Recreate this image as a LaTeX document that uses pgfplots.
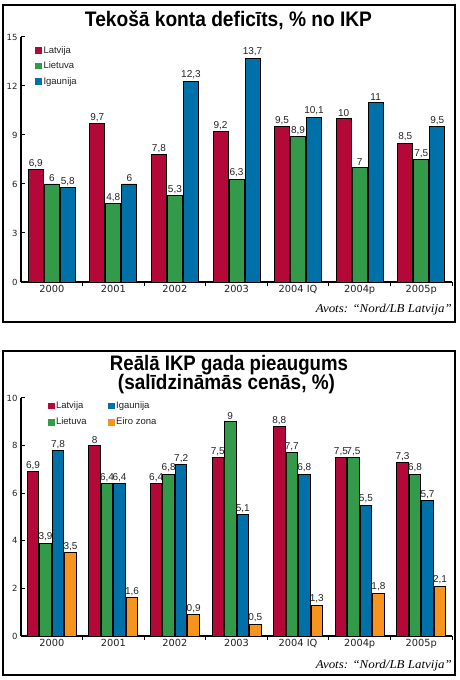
\documentclass[border=0pt]{standalone}
\usepackage{fontspec}
\setmainfont{Liberation Sans}
\newfontfamily\srcfont{Liberation Serif}
\newfontfamily\tickfont{DejaVu Sans}
\usepackage{pgfplots}
\pgfplotsset{compat=1.18}
\definecolor{cLat}{HTML}{B30838}
\definecolor{cLie}{HTML}{339A4A}
\definecolor{cIga}{HTML}{0071A8}
\definecolor{cEur}{HTML}{F7941D}
\definecolor{txt}{HTML}{222222}
\pgfplotsset{
  mybase/.style={
    scale only axis,
    width=431pt,
    xmin=-0.5, xmax=6.5, ymin=0,
    axis lines=left,
    axis line style={-, line width=1.1pt, black},
    /pgf/number format/assume math mode=true,
    /pgf/number format/use comma,
    yticklabel style={font=\tickfont\fontsize{8.5}{10}\selectfont, text=txt},
    xticklabel style={font=\tickfont\fontsize{9.8}{12}\selectfont, text=txt},
    tick style={black, line width=1pt},
    major tick length=4pt,
    tick align=inside,
    xtick={0.5,1.5,...,6.5},
    xticklabels={},
    extra x ticks={0,1,2,3,4,5,6},
    extra x tick labels={2000,2001,2002,2003,2004 IQ,2004p,2005p},
    extra x tick style={major tick length=0pt},
    ybar,
    nodes near coords,
    nodes near coords style={font=\fontsize{10}{10}\selectfont, inner sep=1.5pt, text=txt},
    legend image code/.code={\fill[##1,draw=none] (0pt,-3.3pt) rectangle (6.6pt,3.3pt);},
    legend style={draw=none, fill=none, font=\fontsize{9.5}{11}\selectfont, text=txt,
      cells={anchor=west}, nodes={inner sep=1.5pt}},
  },
  barst/.style={draw=black, line width=0.9pt, fill=#1},
}
\begin{document}
\begin{tikzpicture}
\path (0pt,0pt) rectangle (459pt,680pt);
% frames
\draw[line width=1.2pt] (3pt,675pt) rectangle (455pt,358pt);
\draw[line width=1.2pt] (3pt,329pt) rectangle (455pt,5pt);
% titles
\node[anchor=base] at (228.5pt,653pt) {\resizebox{287pt}{\height}{\bfseries\fontsize{21}{21}\selectfont Tekošā konta deficīts, \% no IKP}};
\node[anchor=base] at (229pt,309pt) {\resizebox{238pt}{\height}{\bfseries\fontsize{21}{21}\selectfont Reālā IKP gada pieaugums}};
\node[anchor=base] at (226.5pt,290pt) {\resizebox{217pt}{\height}{\bfseries\fontsize{21}{21}\selectfont (salīdzināmās cenās, \%)}};
% sources
\node[anchor=base east, inner sep=0pt] at (452pt,367pt) {\resizebox{136pt}{\height}{\srcfont\itshape\fontsize{12}{12}\selectfont Avots: “Nord/LB Latvija”}};
\node[anchor=base east, inner sep=0pt] at (452pt,12pt) {\resizebox{136pt}{\height}{\srcfont\itshape\fontsize{12}{12}\selectfont Avots: “Nord/LB Latvija”}};

\begin{axis}[mybase, at={(21pt,398pt)}, anchor=south west,
  height=245pt, ymax=15, ytick={0,3,...,15},
  bar width=15pt,
  legend style={at={(axis description cs:0.026,0.977)}, anchor=north west, row sep=4.2pt}]
\addplot[barst=cLat, bar shift=-16pt] coordinates {(0,6.9) (1,9.7) (2,7.8) (3,9.2) (4,9.5) (5,10) (6,8.5)};
\addlegendentry{Latvija}
\addplot[barst=cLie, bar shift=0pt] coordinates {(0,6) (1,4.8) (2,5.3) (3,6.3) (4,8.9) (5,7) (6,7.5)};
\addlegendentry{Lietuva}
\addplot[barst=cIga, bar shift=16pt] coordinates {(0,5.8) (1,6) (2,12.3) (3,13.7) (4,10.1) (5,11) (6,9.5)};
\addlegendentry{Igaunija}
\end{axis}

\begin{axis}[mybase, at={(21pt,44pt)}, anchor=south west,
  height=238pt, ymax=10, ytick={0,2,...,10},
  bar width=11.5pt,
  legend columns=2,
  legend style={at={(axis description cs:0.055,1.0)}, anchor=north west, row sep=5pt,
     /tikz/column 2/.style={column sep=20pt}}]
\addplot[barst=cLat, bar shift=-18.75pt] coordinates {(0,6.9) (1,8) (2,6.4) (3,7.5) (4,8.8) (5,7.5) (6,7.3)};
\addlegendentry{Latvija}
\addplot[barst=cIga, bar shift=6.25pt] coordinates {(0,7.8) (1,6.4) (2,7.2) (3,5.1) (4,6.8) (5,5.5) (6,5.7)};
\addlegendentry{Igaunija}
\addplot[barst=cLie, bar shift=-6.25pt] coordinates {(0,3.9) (1,6.4) (2,6.8) (3,9) (4,7.7) (5,7.5) (6,6.8)};
\addlegendentry{Lietuva}
\addplot[barst=cEur, bar shift=18.75pt] coordinates {(0,3.5) (1,1.6) (2,0.9) (3,0.5) (4,1.3) (5,1.8) (6,2.1)};
\addlegendentry{Eiro zona}
\end{axis}
\end{tikzpicture}
\end{document}
